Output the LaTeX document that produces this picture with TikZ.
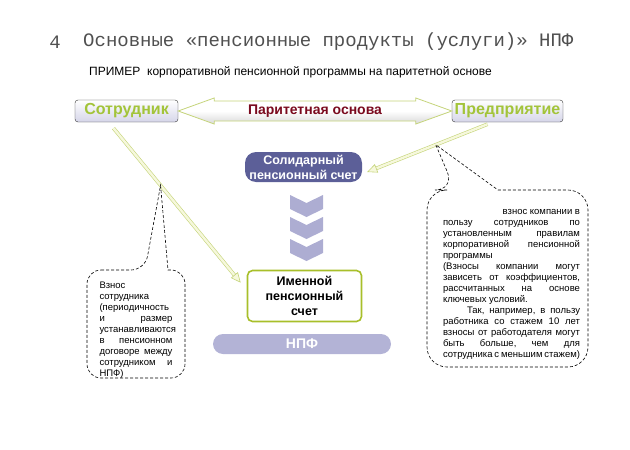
\documentclass[tikz,border=0pt]{standalone}
\usepackage{fontspec}
\setmainfont{Liberation Sans}
\newfontfamily\titlefont{Liberation Mono}
\usetikzlibrary{arrows.meta,calc}
\definecolor{titlegray}{HTML}{505050}
\definecolor{limetext}{HTML}{A3C43A}
\definecolor{limeframe}{HTML}{A8BF2A}
\definecolor{arrowline}{HTML}{C5D47A}
\definecolor{arrowfill}{HTML}{F6F8DC}
\definecolor{paritytext}{HTML}{7A0A1E}
\definecolor{slate}{HTML}{5C5F98}
\definecolor{lavender}{HTML}{B3B3D6}
\definecolor{chevfill}{HTML}{ADADD2}
\tikzset{
  party/.style={draw=black!80,rounded corners=3pt,top color=white,bottom color=lavender!55,
    minimum height=22,inner sep=0pt,text=limetext,font=\fontsize{16}{18}\selectfont\bfseries},
  parity/.style={draw=arrowline,line width=0.8pt,top color=white,bottom color=gray!30,middle color=white},
  feed/.style={draw=arrowline,double=arrowfill,double distance=2.4pt,line width=0.6pt,
    -{Triangle[open,length=10pt,width=9pt,fill=arrowfill]}},
  account/.style={align=center,inner sep=0pt,font=\fontsize{12.5}{15}\selectfont\bfseries},
  notetext/.style={text width=#1,align=justify,inner sep=0pt,font=\fontsize{9.5}{11}\selectfont},
  notebox/.style={draw=black,line width=0.6pt,dash pattern=on 3pt off 2pt},
  chev/.style={fill=chevfill}
}
\begin{document}
\begin{tikzpicture}[x=1pt,y=-1pt]
  \useasboundingbox (0,0) rectangle (630,450);
  % heading
  \node[text=titlegray,font=\titlefont\fontsize{19}{21}\selectfont] (num) at (55,42) {4};
  \node[anchor=west,inner sep=0pt,text=titlegray,font=\titlefont\fontsize{19}{21}\selectfont] (title) at (83,42)
    {Основные «пенсионные продукты (услуги)» НПФ};
  \node[anchor=west,inner sep=0pt,font=\fontsize{12}{14}\selectfont] (sub) at (89,72)
    {ПРИМЕР\ \ корпоративной пенсионной программы на паритетной основе};

  % parties and parity arrow
  \node[party,minimum width=103] (sotr) at (126.5,111) {Сотрудник};
  \node[party,minimum width=111] (pred) at (507.5,111) {Предприятие};
  \draw[parity] (sotr.east) -- ++(36,-13) -- ++(0,3) -- ($(pred.west)+(-36,-10)$) -- ++(0,-3)
    -- (pred.west) -- ++(-36,13) -- ++(0,-3) -- ($(sotr.east)+(36,10)$) -- ++(0,3) -- cycle;
  \node[text=paritytext,font=\fontsize{14}{16}\selectfont\bfseries] (par) at ($(sotr.east)!0.5!(pred.west)$) {Паритетная основа};

  % accounts
  \node[account,fill=slate,text=white,rounded corners=11pt,minimum width=117,minimum height=30] (sol) at (303.5,167)
    {Солидарный\\пенсионный счет};
  \foreach \t in {195,217,239}
    \fill[chev] (290,\t) -- (306.5,\t+8) -- (323,\t) -- (323,\t+14) -- (306.5,\t+22) -- (290,\t+14) -- cycle;
  \node[account,draw=limeframe,line width=1.6pt,rounded corners=5pt,fill=white,minimum width=114,minimum height=51] (imen) at (304.5,296)
    {Именной\\пенсионный\\счет};
  \node[account,fill=lavender,text=white,rounded corners=10pt,minimum width=178,minimum height=20,font=\fontsize{14}{16}\selectfont\bfseries] (npf) at (302,344) {НПФ};

  % contributions
  \coordinate (sstart) at ($(sotr.south)+(-13,6)$);
  \coordinate (send) at ($(imen.north west)+(-6,13)$);
  \draw[feed] (sstart) -- (send);
  \coordinate (pstart) at ($(pred.south)+(-20,2)$);
  \coordinate (pend) at ($(sol.east)+(5,5)$);
  \draw[feed] (pstart) -- (pend);

  % notes
  \coordinate (ltip) at ($(sstart)!0.37!(send)$);
  \node[notetext=73,anchor=north] (lnote) at (136,282) {Взнос\\
    сотрудника\\
    (периодичность\\
    и\hfill размер\\
    устанавливаются\\
    в\hfill пенсионном\\
    договоре\hfill между\\
    сотрудником\hfill и\\
    НПФ)};
  \draw[notebox,rounded corners=14pt] (87,270) -- (145,270) [sharp corners] -- (ltip) -- (168,270)
    [rounded corners=14pt] -- (185,270) -- (185,378) -- (87,378) -- cycle;

  \coordinate (rtip) at ($(pstart)!0.43!(pend)$);
  \node[notetext=137,anchor=north] (rnote) at (511.5,209) {\hfill взнос компании в\\
    пользу\hfill сотрудников\hfill по\\
    установленным\hfill правилам\\
    корпоративной\hfill пенсионной\\
    программы\\
    (Взносы\hfill компании\hfill могут\\
    зависеть\hfill от\hfill коэффициентов,\\
    рассчитанных\hfill на\hfill основе\\
    ключевых условий.\\
    \hspace*{24pt}Так,\hfill например,\hfill в\hfill пользу\\
    работника\hfill со\hfill стажем\hfill 10\hfill лет\\
    взносы\hfill от\hfill работодателя\hfill могут\\
    быть\hfill больше,\hfill чем\hfill для\\
    сотрудника с меньшим стажем)};
  \draw[notebox,rounded corners=20pt] (427,190) -- (455,190) [sharp corners] -- (rtip) -- (498,190)
    [rounded corners=20pt] -- (588,190) -- (588,367) -- (427,367) -- cycle;
\end{tikzpicture}
\end{document}
